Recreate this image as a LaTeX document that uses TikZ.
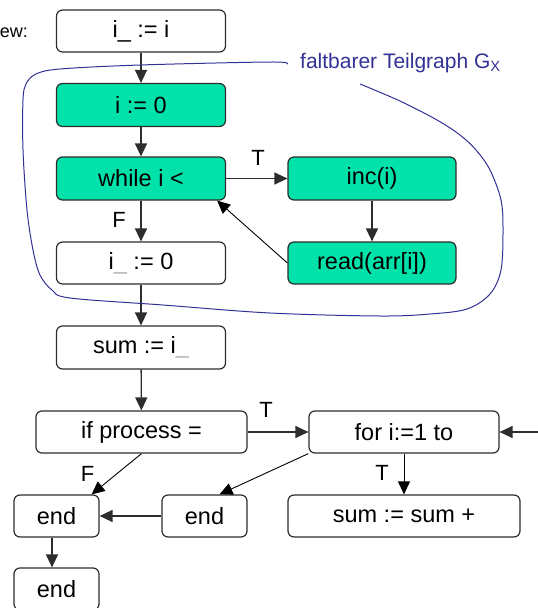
\documentclass[tikz,border=0pt]{standalone}
\usepackage{fontspec}
\setmainfont{Liberation Sans}
\usetikzlibrary{arrows.meta,calc}
\definecolor{foldgreen}{RGB}{0,226,170}
\definecolor{edgegray}{RGB}{45,45,45}
\definecolor{hullblue}{RGB}{50,50,150}
\begin{document}
\begin{tikzpicture}[x=1pt,y=-1pt,
  box/.style={draw=edgegray,line width=1.2pt,rounded corners=6pt,inner sep=0pt,
    minimum height=42pt,font=\fontsize{23.5}{27}\selectfont},
  green/.style={box,fill=foldgreen},
  flow/.style={draw=edgegray,line width=1.3pt,-{Triangle[length=13pt,width=12pt]}},
  thinflow/.style={draw=black,line width=0.9pt,-{Triangle[length=13pt,width=12pt]}},
  lbl/.style={inner sep=0pt,font=\fontsize{22}{26}\selectfont}]
\useasboundingbox (0,0) rectangle (538,608);
\clip (0,0) rectangle (538,608);

% left column
\node[box,minimum width=169pt] (init) at (141,31) {i\_ := i};
\node[green,minimum width=169pt,minimum height=43pt] (zero) at (141,105) {i := 0};
\node[green,minimum width=169pt,minimum height=43pt] (loop) at (141,178.5) {while i <};
\node[box,minimum width=169pt] (reset) at (141,263) {i\textcolor{gray!60}{\_} := 0};
\node[box,minimum width=169pt,minimum height=43pt] (sum) at (141,347.5) {sum := i\textcolor{gray!60}{\_}};
\node[box,minimum width=211pt] (cond) at (141.5,432) {if process =};

% loop body
\node[green,minimum width=168pt,minimum height=43pt] (inc) at (372,178.5) {inc(i)};
\node[green,minimum width=168pt] (read) at (372,263) {read(arr[i])};

% lower part
\node[box,minimum width=190pt] (for) at (404,432) {for i:=1 to};
\node[box,minimum width=232pt] (acc) at (404,516) {sum := sum +};
\node[box,minimum width=85pt] (endL) at (56.5,516) {end};
\node[box,minimum width=85pt] (endM) at (204.5,516) {end};
\node[box,minimum width=85pt] (endB) at (56.5,589) {end};

% caption fragment at the left edge
\node[inner sep=0pt,anchor=base east,font=\fontsize{18}{22}\selectfont] (cap) at (28,37) {ew:};

% connectors
\draw[flow] (init) -- (zero);
\draw[flow] (zero) -- (loop);
\draw[flow] (loop) -- (inc);
\draw[flow] (loop) -- (reset);
\draw[flow] (inc) -- (read);
\draw[thinflow] (read.west) -- ($(loop.south east)+(-9,0)$);
\draw[flow] (reset) -- (sum);
\draw[flow] (sum) -- (cond);
\draw[flow] (cond) -- (for);
\draw[thinflow] (cond.south) -- ($(endL.north east)+(-8,0)$);
\draw[thinflow] (for.south west) -- ($(endM.north)+(15,0)$);
\draw[thinflow] (for) -- (acc);
\draw[flow] (endM) -- (endL);
\draw[flow] ($(endL.south)+(-4.5,0)$) -- ($(endB.north)+(-4.5,0)$);
\coordinate (back) at (540,432);
\draw[flow] (back) -- (for.east);

% branch labels
\node[lbl] (tLoop) at (258,158) {T};
\node[lbl] (fLoop) at (119,220) {F};
\node[lbl] (tCond) at (266,410) {T};
\node[lbl] (fCond) at (87.5,474) {F};
\node[lbl] (tFor) at (382,473) {T};

% hull of the foldable subgraph
\draw[hullblue,line width=1pt] plot[smooth,tension=0.55] coordinates {
  (287,64) (270,62) (140,65) (60,69) (36,74) (26,84) (23,100) (23,150)
  (27,210) (33,250) (40,275) (52,290) (70,298) (163,305) (270,313)
  (380,316) (430,314) (467,309) (490,294) (501,270) (503,230) (501,200)
  (490,170) (476,150) (460,135) (437,120) (400,101) (360,84)};
\node[inner sep=0pt,anchor=base west,text=hullblue,font=\fontsize{21}{25}\selectfont]
  (hull) at (300,68) {faltbarer Teilgraph G\textsubscript{X}};
\end{tikzpicture}
\end{document}
